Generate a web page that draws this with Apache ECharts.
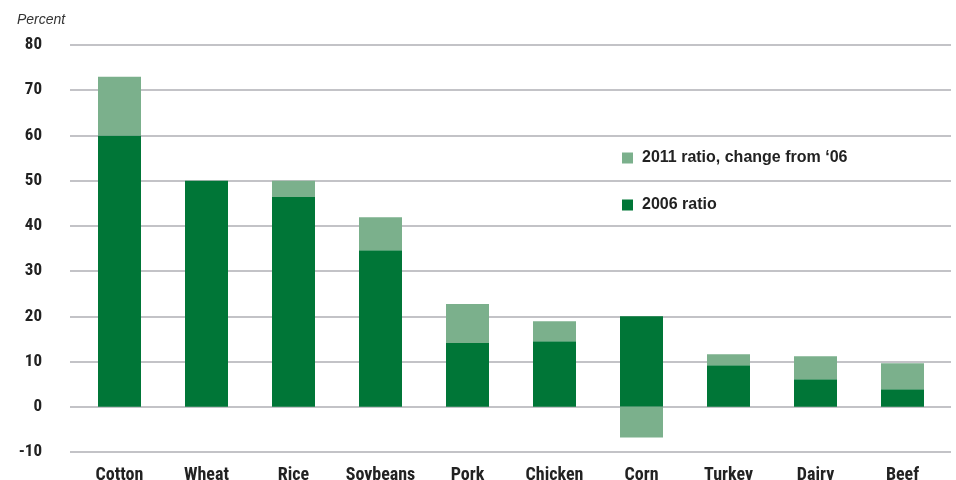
<!DOCTYPE html>
<html><head><meta charset="utf-8">
<script src="https://cdn.jsdelivr.net/npm/echarts@6/dist/echarts.min.js"></script>
<style>html,body{margin:0;padding:0;background:#fff}#c{width:956px;height:480px}</style>
</head><body><div id="c"></div>
<script>
const categories = ['Cotton','Wheat','Rice','Soybeans','Pork','Chicken','Corn','Turkey','Dairy','Beef'];
const ratio2006 = [60, 50, 46.4, 34.6, 14.1, 14.5, 20.0, 9.2, 6.1, 3.9];
const change2011 = [13, 0, 3.6, 7.3, 8.6, 4.4, -6.8, 2.4, 5.1, 5.7];
const yTicks = {min: -10, max: 80, interval: 10};
const seriesNames = ['2011 ratio, change from \u201806', '2006 ratio'];

const condensed = '"Liberation Sans Narrow","Roboto Condensed","DejaVu Sans Condensed",Arial,sans-serif';
const chart = echarts.init(document.getElementById('c'));
chart.setOption({
  animation: false,
  title: {text: 'Percent', left: 12, top: 8, textStyle: {fontFamily: 'Liberation Sans, Arial', fontStyle: 'italic', fontWeight: 'normal', fontSize: 14, color: '#333'}},
  legend: {
    orient: 'vertical', left: 622, top: 150, padding: 0, itemWidth: 11, itemHeight: 11, itemGap: 31,
    icon: 'rect', data: seriesNames,
    textStyle: {fontFamily: 'Liberation Sans, Arial', fontWeight: 'bold', fontSize: 16, color: '#222', padding: [0,0,0,4]}
  },
  grid: [
    {left: 70, right: 5, top: 45, bottom: 28, outerBoundsMode: 'none', containLabel: false},
    {left: 76, right: 10, top: 45, bottom: 28, outerBoundsMode: 'none', containLabel: false}
  ],
  xAxis: [
    {gridIndex: 0, type: 'category', data: categories, show: false},
    {gridIndex: 1, type: 'category', data: categories,
     axisLine: {show: false}, axisTick: {show: false},
     axisLabel: {interval: 0, margin: 14, fontFamily: condensed, fontWeight: 'bold', fontSize: 18, color: '#222'}}
  ],
  yAxis: [
    {gridIndex: 0, type: 'value', min: yTicks.min, max: yTicks.max, interval: yTicks.interval,
     axisLine: {show: false}, axisTick: {show: false},
     axisLabel: {margin: 28, fontFamily: condensed, fontWeight: 'bold', fontSize: 17, color: '#222'},
     splitLine: {lineStyle: {color: '#c3c3c7', width: 2}}},
    {gridIndex: 1, type: 'value', min: yTicks.min, max: yTicks.max, interval: yTicks.interval, show: false, splitLine: {show: false}}
  ],
  series: [
    {name: seriesNames[1], type: 'bar', stack: 'a', xAxisIndex: 1, yAxisIndex: 1, data: ratio2006, barWidth: 43, itemStyle: {color: '#007637'}},
    {name: seriesNames[0], type: 'bar', stack: 'a', xAxisIndex: 1, yAxisIndex: 1, data: change2011, barWidth: 43, itemStyle: {color: '#7bb08c'}}
  ]
});
</script></body></html>
